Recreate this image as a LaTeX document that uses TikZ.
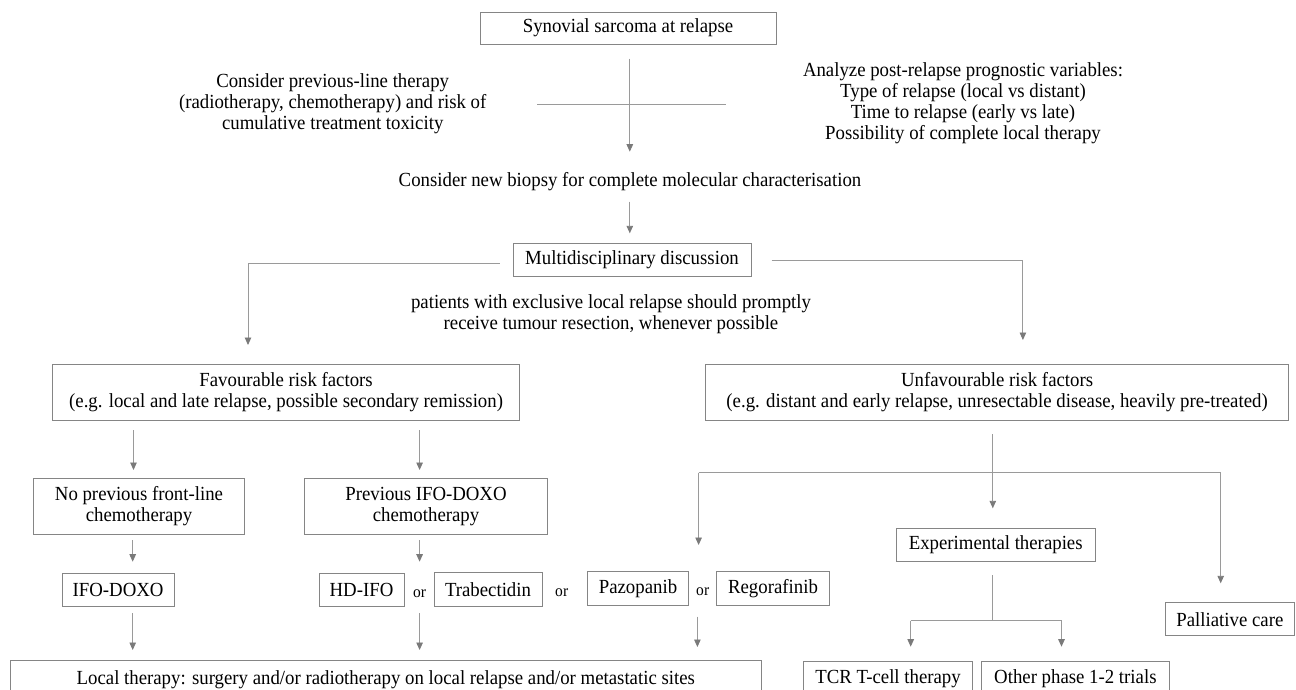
\documentclass[tikz,border=0pt]{standalone}
\usepackage{fontspec}
\setmainfont{Liberation Serif}[FakeStretch=0.94]
\usetikzlibrary{arrows.meta}
\definecolor{boxc}{HTML}{858585}
\definecolor{linec}{HTML}{9A9A9A}
\definecolor{tipc}{HTML}{7A7A7A}
\newcommand\myfs{\fontsize{20}{21.2}\selectfont}
\newcommand\orfs{\fontsize{16.5}{18}\selectfont}
\tikzset{
  box/.style={draw=boxc, line width=0.9pt, align=center, font=\myfs, inner sep=0pt},
  txt/.style={align=center, font=\myfs, inner sep=0pt},
  ortxt/.style={font=\orfs, inner sep=0pt},
  conn/.style={draw=linec, line width=0.9pt},
  arr/.style={draw=linec, line width=0.9pt, -{Triangle[width=6.5pt,length=7.5pt,color=tipc]}}
}
\begin{document}
\begin{tikzpicture}[x=1pt,y=-1pt]
\fill[white] (0,0) rectangle (1296,689);
\useasboundingbox (0,0) rectangle (1296,689);

% boxes
\node[box, minimum width=296pt, minimum height=32pt] (top) at (628,28.2) {Synovial sarcoma at relapse};
\node[box, minimum width=238pt, minimum height=33pt] (multi) at (632,259.7) {Multidisciplinary discussion};
\node[box, minimum width=467pt, minimum height=56.4pt] (fav) at (286.1,392.5) {Favourable risk factors\\(e.g. local and late relapse, possible secondary remission)};
\node[box, minimum width=583pt, minimum height=56.4pt] (unfav) at (997.1,392.5) {Unfavourable risk factors\\(e.g. distant and early relapse, unresectable disease, heavily pre-treated)};
\node[box, minimum width=211pt, minimum height=55.7pt] (noprev) at (139,506.2) {No previous front-line\\chemotherapy};
\node[box, minimum width=242.6pt, minimum height=55.7pt] (prev) at (426,506.2) {Previous IFO-DOXO\\chemotherapy};
\node[box, minimum width=111.8pt, minimum height=33.4pt] (ifodoxo) at (118.1,590) {IFO-DOXO};
\node[box, minimum width=85pt, minimum height=33.4pt] (hdifo) at (361.5,590) {HD-IFO};
\node[box, minimum width=108pt, minimum height=33.4pt] (trab) at (488,589.5) {Trabectidin};
\node[box, minimum width=100.3pt, minimum height=33.4pt] (pazo) at (638,588.4) {Pazopanib};
\node[box, minimum width=112.5pt, minimum height=33.4pt] (rego) at (773,588.4) {Regorafinib};
\node[box, minimum width=198.6pt, minimum height=33.4pt] (exp) at (995.7,545) {Experimental therapies};
\node[box, minimum width=129.8pt, minimum height=33pt] (pall) at (1229.9,619.2) {Palliative care};
\node[box, minimum width=750.8pt, minimum height=40pt] (local) at (385.8,680) {Local therapy: surgery and/or radiotherapy on local relapse and/or metastatic sites};
\node[box, minimum width=169.3pt, minimum height=36pt] (tcr) at (888,679) {TCR T-cell therapy};
\node[box, minimum width=187.3pt, minimum height=36pt] (other) at (1075.4,679) {Other phase 1-2 trials};

% plain texts
\node[txt] (prevline) at (332.7,103.5) {Consider previous-line therapy\\(radiotherapy, chemotherapy) and risk of\\cumulative treatment toxicity};
\node[txt] (analyze) at (963,103.4) {Analyze post-relapse prognostic variables:\\Type of relapse (local vs distant)\\Time to relapse (early vs late)\\Possibility of complete local therapy};
\node[txt] (biopsy) at (630,181.7) {Consider new biopsy for complete molecular characterisation};
\node[txt] (patients) at (611,314.2) {patients with exclusive local relapse should promptly\\receive tumour resection, whenever possible};
\node[ortxt] (or1) at (419.6,594) {or};
\node[ortxt] (or2) at (561.7,592.5) {or};
\node[ortxt] (or3) at (702.7,591.7) {or};

% connector coordinates
\coordinate (c1s) at (629.8,58.5);
\coordinate (c1e) at (629.8,151.7);
\coordinate (hL) at (537,104.3);
\coordinate (hR) at (726,104.3);
\coordinate (c2s) at (629.8,201.7);
\coordinate (c2e) at (629.8,233.3);
\coordinate (mL) at (499.6,263.3);
\coordinate (mLd) at (248,345);
\coordinate (mR) at (771.5,260);
\coordinate (mRd) at (1022.9,340);
\coordinate (fL) at (133.5,430);
\coordinate (fLe) at (133.5,470);
\coordinate (fR) at (419.6,430);
\coordinate (fRe) at (419.6,470);
\coordinate (nL) at (132.7,540);
\coordinate (nLe) at (132.7,561.7);
\coordinate (nR) at (419.6,540);
\coordinate (nRe) at (419.6,561.7);
\coordinate (lL) at (132.7,613.3);
\coordinate (lLe) at (132.7,650);
\coordinate (lM) at (419.6,613.3);
\coordinate (lMe) at (419.6,650);
\coordinate (lR) at (697.4,616.7);
\coordinate (lRe) at (697.4,647);
\coordinate (uS) at (992.8,434);
\coordinate (uJ) at (992.8,472.7);
\coordinate (uL) at (698.6,472.7);
\coordinate (uLe) at (698.6,545);
\coordinate (uMe) at (992.8,508.3);
\coordinate (uR) at (1220.7,472.7);
\coordinate (uRe) at (1220.7,583.3);
\coordinate (eS) at (992.8,575);
\coordinate (eJ) at (992.8,620.7);
\coordinate (eL) at (910.7,620.7);
\coordinate (eLe) at (910.7,646.7);
\coordinate (eR) at (1061.5,620.7);
\coordinate (eRe) at (1061.5,646.7);

% connectors
\draw[arr] (c1s) -- (c1e);
\draw[conn] (hL) -- (hR);
\draw[arr] (c2s) -- (c2e);
\draw[arr] (mL) -| (mLd);
\draw[arr] (mR) -| (mRd);
\draw[arr] (fL) -- (fLe);
\draw[arr] (fR) -- (fRe);
\draw[arr] (nL) -- (nLe);
\draw[arr] (nR) -- (nRe);
\draw[arr] (lL) -- (lLe);
\draw[arr] (lM) -- (lMe);
\draw[arr] (lR) -- (lRe);
\draw[conn] (uS) -- (uJ);
\draw[conn] (uL) -- (uR);
\draw[arr] (uL) -- (uLe);
\draw[arr] (uJ) -- (uMe);
\draw[arr] (uR) -- (uRe);
\draw[conn] (eS) -- (eJ);
\draw[conn] (eL) -- (eR);
\draw[arr] (eL) -- (eLe);
\draw[arr] (eR) -- (eRe);
\end{tikzpicture}
\end{document}
